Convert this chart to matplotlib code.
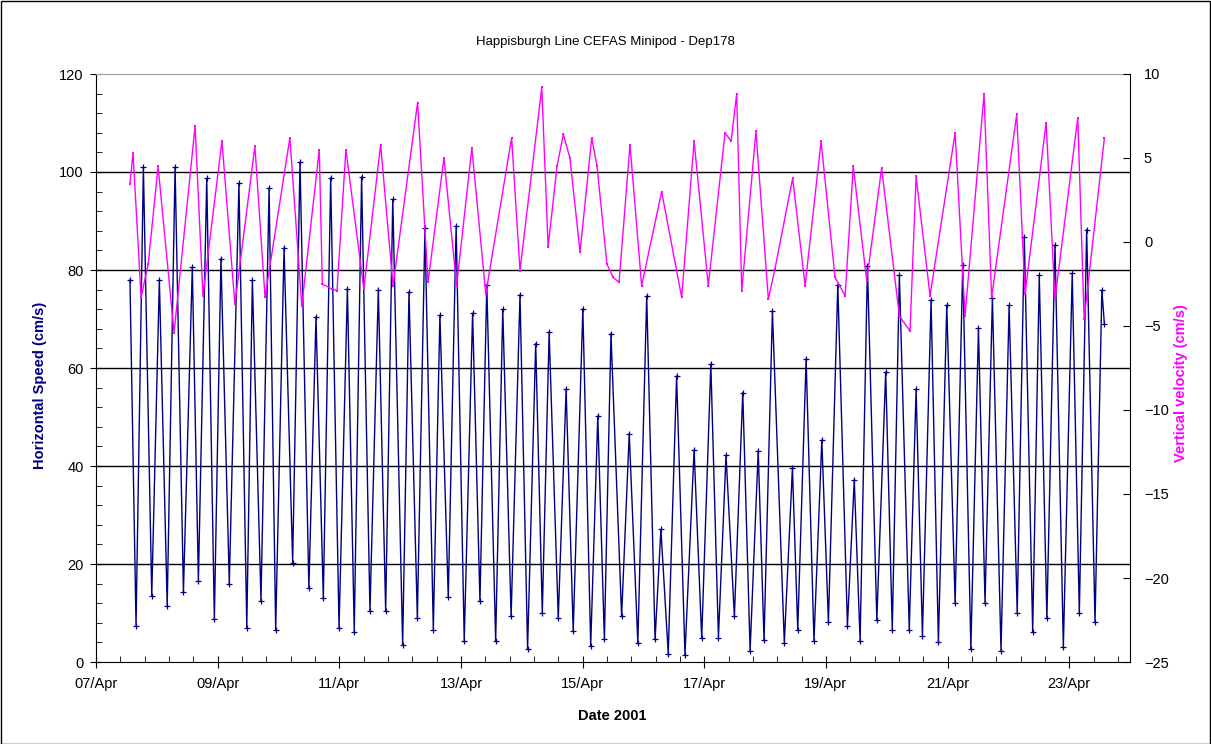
import matplotlib
matplotlib.use('Agg')
import matplotlib.pyplot as plt
import matplotlib.dates as mdates
import numpy as np
from datetime import datetime, timedelta

plt.rcParams['font.family'] = ['Liberation Sans', 'DejaVu Sans']

# Horizontal speed turning points (hours after 07/Apr/2001 00:00, cm/s)
speed_hours = [13.4, 15.8, 18.7, 22.0, 25.0, 28.1, 31.2, 34.5, 38.0, 40.4,
               43.7, 46.7, 49.3, 52.6, 56.4, 59.5, 61.7, 65.1, 68.3, 70.9,
               74.2, 77.6, 80.5, 84.0, 86.8, 89.7, 92.6, 95.9, 99.2, 101.9,
               104.8, 108.1, 111.4, 114.3, 117.1, 121.0, 123.5, 126.8, 129.8, 133.1,
               135.7, 139.0, 142.1, 145.3, 148.6, 151.5, 154.2, 157.7, 160.5, 163.8,
               167.3, 170.3, 173.5, 176.1, 178.8, 182.4, 185.5, 188.3, 192.1, 195.2,
               198.0, 200.6, 203.2, 207.4, 210.4, 213.8, 217.3, 220.6, 222.9, 225.8,
               229.1, 232.4, 236.0, 239.0, 242.6, 245.6, 248.6, 251.9, 255.2, 258.1,
               261.3, 263.6, 266.9, 271.6, 274.8, 276.9, 280.2, 283.3, 286.4, 289.0,
               292.7, 296.5, 299.2, 301.5, 304.4, 308.1, 311.6, 314.2, 317.0, 320.9,
               323.6, 326.1, 329.5, 332.4, 335.7, 339.0, 342.0, 345.2, 348.2, 350.8,
               353.7, 357.1, 360.3, 363.5, 366.3, 369.6, 372.2, 375.2, 378.4, 381.7,
               385.2, 388.0, 390.9, 394.2, 396.9, 397.9]
speed_values = [78, 7.4, 101, 13.5, 78, 11.4, 101, 14.3, 80.6, 16.6,
                98.7, 8.7, 82.3, 16, 97.7, 7, 78, 12.5, 96.7, 6.6,
                84.5, 20.3, 102, 15.1, 70.4, 13, 98.8, 7, 76.2, 6.2,
                99, 10.4, 76, 10.4, 94.4, 3.5, 75.5, 8.9, 88.6, 6.6,
                70.8, 13.2, 89, 4.3, 71.2, 12.4, 77, 4.3, 72, 9.3,
                75, 2.7, 65, 10, 67.3, 8.9, 55.7, 6.3, 72.1, 3.3,
                50.2, 4.6, 67, 9.3, 46.6, 3.9, 74.7, 4.6, 27.1, 1.7,
                58.4, 1.5, 43.3, 4.8, 60.8, 5, 42.2, 9.3, 55, 2.3,
                43.1, 4.4, 71.6, 3.9, 39.6, 6.6, 61.9, 4.3, 45.3, 8.1,
                77, 7.4, 37.2, 4.3, 80.9, 8.5, 59.2, 6.6, 78.9, 6.6,
                55.7, 5.4, 73.9, 4, 72.8, 12, 81.1, 2.7, 68.1, 12,
                74.3, 2.3, 72.8, 10, 86.7, 6.2, 78.9, 8.9, 85.1, 3.1,
                79.3, 10, 88.2, 8.1, 75.9, 68.9]

# Vertical velocity (hours after 07/Apr/2001 00:00, cm/s)
vert_hours = [13.4, 14.6, 17.8, 20.6, 24.5, 30.8, 39.1, 42.2, 49.7, 54.8,
              62.7, 66.7, 76.5, 81.2, 88.1, 89.3, 93.1, 95.1, 98.6, 105.7,
              112.3, 117.2, 126.9, 131.0, 137.3, 142.3, 148.3, 153.8, 164.0, 167.3,
              175.9, 178.4, 181.9, 184.4, 187.0, 191.0, 195.6, 197.7, 201.6, 204.0,
              206.4, 210.7, 215.3, 223.2, 231.1, 236.0, 241.6, 248.2, 250.6, 252.8,
              254.8, 260.4, 265.3, 267.9, 274.9, 279.8, 286.1, 291.6, 295.6, 298.8,
              304.1, 310.0, 317.0, 321.2, 323.6, 329.1, 339.0, 342.9, 350.4, 353.4,
              363.3, 366.6, 374.9, 378.4, 387.4, 389.9, 397.9]
vert_values = [3.45, 5.3, -3.3, -1.3, 4.5, -5.4, 6.9, -3.2, 6.0, -3.7,
               5.7, -3.3, 6.2, -3.8, 5.5, -2.5, -2.8, -2.9, 5.5, -2.8,
               5.8, -2.6, 8.3, -2.4, 5.0, -2.6, 5.6, -3.1, 6.2, -1.7,
               9.2, -0.3, 4.5, 6.4, 5.0, -0.6, 6.2, 4.5, -1.3, -2.1,
               -2.4, 5.8, -2.6, 3.0, -3.3, 6.0, -2.6, 6.5, 6.0, 8.8,
               -2.9, 6.6, -3.4, -1.6, 3.8, -2.6, 6.0, -2.1, -3.2, 4.5,
               -2.3, 4.4, -4.4, -5.3, 3.9, -3.2, 6.5, -4.4, 8.8, -3.3,
               7.6, -3.1, 7.1, -3.4, 7.4, -4.6, 6.2]

NAVY = '#000080'
MAGENTA = '#FF00FF'

t0 = datetime(2001, 4, 7)
x0 = mdates.date2num(t0)
speed_t = mdates.date2num([t0 + timedelta(hours=h) for h in speed_hours])
vert_t = mdates.date2num([t0 + timedelta(hours=h) for h in vert_hours])

W, H = 1211, 744
fig = plt.figure(figsize=(W / 100, H / 100), dpi=100)
ax = fig.add_axes([96 / W, 1 - 662 / H, (1130 - 96) / W, (662 - 74) / H])

# gridlines
for g in [20, 40, 60, 80, 100]:
    ax.axhline(g, color='black', lw=1, zorder=1)

ax.plot(speed_t, speed_values, color=NAVY, lw=1, marker='+', ms=5, mew=0.9, zorder=3)

ax.set_xlim(x0, x0 + 17)
ax.set_ylim(0, 120)
ax.set_xticks(x0 + np.arange(0, 17, 2))
ax.set_xticks(x0 + np.arange(0, 17.01, 0.4), minor=True)
ax.xaxis.set_major_formatter(mdates.DateFormatter('%d/%b'))
ax.set_yticks(np.arange(0, 121, 20))
ax.set_yticks(np.arange(0, 121, 4), minor=True)
ax.tick_params(axis='x', which='major', direction='inout', length=8, labelsize=10.5, pad=7)
ax.tick_params(axis='x', which='minor', direction='in', length=4)
ax.tick_params(axis='y', which='major', direction='inout', length=8, labelsize=10.5, pad=5)
ax.tick_params(axis='y', which='minor', direction='in', length=4)
ax.spines['top'].set_color('#a0a0a0')
ax.spines['right'].set_visible(False)

ax2 = ax.twinx()
ax2.plot(vert_t, vert_values, color=MAGENTA, lw=1, marker='s', ms=1.8, mew=0, zorder=4)
ax2.set_ylim(-25, 10)
ax2.set_yticks(np.arange(-25, 11, 5))
ax2.tick_params(axis='y', direction='in', length=5, labelsize=10.5, pad=10)
ax2.spines['top'].set_visible(False)
ax2.spines['left'].set_visible(False)
ax2.spines['bottom'].set_visible(False)

fig.text(605 / W, 1 - 42 / H, 'Happisburgh Line CEFAS Minipod - Dep178',
         ha='center', va='center', fontsize=9.5)
fig.text(612 / W, 1 - 716 / H, 'Date 2001', ha='center', va='center',
         fontsize=10.5, fontweight='bold')
fig.text(40 / W, 1 - 385 / H, 'Horizontal Speed (cm/s)', ha='center', va='center',
         rotation=90, fontsize=10.5, fontweight='bold', color=NAVY)
fig.text(1181 / W, 1 - 383 / H, 'Vertical velocity (cm/s)', ha='center', va='center',
         rotation=90, fontsize=10.5, fontweight='bold', color=MAGENTA)

fig.add_artist(plt.Rectangle((0.5 / W, 0.5 / H), 1 - 1.5 / W, 1 - 1.5 / H,
                             transform=fig.transFigure, fill=False,
                             edgecolor='black', lw=1))

fig.savefig('out.png', dpi=100)
